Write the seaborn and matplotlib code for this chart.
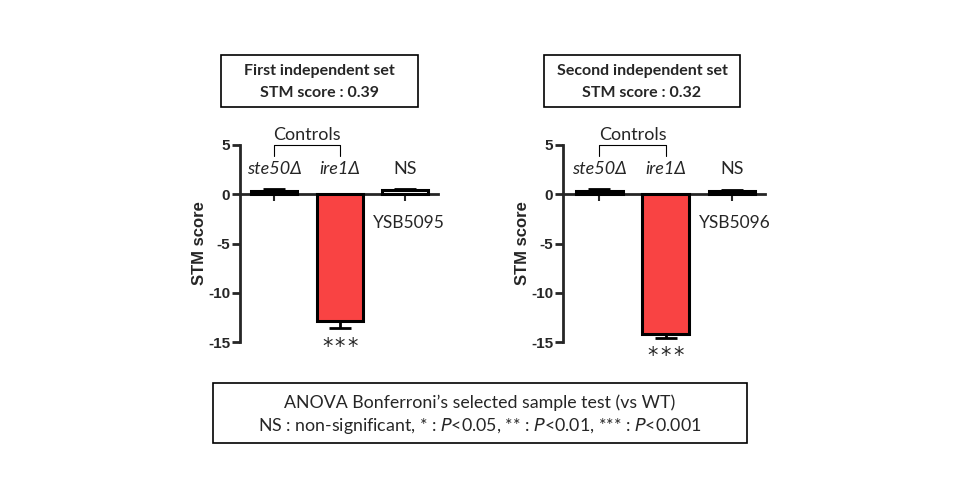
import numpy as np
import pandas as pd
import seaborn as sns
import matplotlib.pyplot as plt
from matplotlib.patches import Rectangle

# values
labels_1 = ["ste50Δ", "ire1Δ", "YSB5095"]
scores_1 = [0.35, -12.85, 0.4]
errors_1 = [0.15, 0.75, 0.1]
labels_2 = ["ste50Δ", "ire1Δ", "YSB5096"]
scores_2 = [0.3, -14.15, 0.35]
errors_2 = [0.2, 0.4, 0.1]
titles = ["First independent set\nSTM score : 0.39", "Second independent set\nSTM score : 0.32"]
bar_colors = ["white", "#F94343", "white"]

sns.set_style("ticks")
plt.rcParams['font.family'] = ['Lato', 'DejaVu Sans']

fig = plt.figure(figsize=(9.6, 5), dpi=100)


def px(x0, y0, x1, y1):
    return [x0 / 960, 1 - y1 / 500, (x1 - x0) / 960, (y1 - y0) / 500]


def panel(rect, labels, scores, errors, xlim):
    ax = fig.add_axes(rect)
    df = pd.DataFrame({"strain": labels, "score": scores})
    sns.barplot(data=df, x="strain", y="score", hue="strain", palette=bar_colors,
                legend=False, width=0.7, saturation=1, edgecolor="black",
                linewidth=2.2, ax=ax, zorder=3)
    ax.errorbar(range(3), scores, yerr=errors, fmt="none", ecolor="black",
                elinewidth=2, capsize=8, capthick=2, zorder=2)
    ax.set_ylim(-15, 5)
    ax.set_xlim(*xlim)
    ax.set_yticks([5, 0, -5, -10, -15])
    ax.set_yticklabels(["5", "0", "-5", "-10", "-15"], fontweight="bold",
                       family="Liberation Sans", fontsize=11)
    ax.set_xticks([0, 1, 2])
    ax.set_xticklabels([])
    ax.set_xlabel("")
    ax.set_ylabel("STM score", fontweight="bold", family="Liberation Sans",
                  fontsize=12, labelpad=1)
    ax.spines["right"].set_visible(False)
    ax.spines["top"].set_visible(False)
    ax.spines["bottom"].set_position(("data", 0))
    ax.spines["left"].set_linewidth(2)
    ax.spines["bottom"].set_linewidth(2)
    ax.tick_params(axis="y", width=2, length=6, pad=1)
    ax.tick_params(axis="x", width=1.5, length=5, direction="out")
    ax.set_facecolor("none")

    # labels above bars
    ax.text(0, 2.6, labels[0], style="italic", ha="center", va="center", fontsize=13, clip_on=False)
    ax.text(1, 2.6, labels[1], style="italic", ha="center", va="center", fontsize=13, clip_on=False)
    ax.text(2, 2.6, "NS", ha="center", va="center", fontsize=13, clip_on=False)
    ax.text(2.05, -2.9, labels[2], ha="center", va="center", fontsize=12.5, clip_on=False)
    for dx in (-0.19, 0, 0.19):
        ax.text(1 + dx, scores[1] - errors[1] - 0.9, "*", ha="center", va="top",
                fontsize=15, family="DejaVu Sans", clip_on=False)
    # controls bracket
    ax.plot([0, 0, 1, 1], [3.9, 5.0, 5.0, 3.9], color="black", lw=0.8, clip_on=False)
    ax.text(0.5, 6.0, "Controls", ha="center", va="center", fontsize=13, clip_on=False)
    return ax


panel(px(240, 145, 438, 342), labels_1, scores_1, errors_1, (-0.52, 2.5))
panel(px(563, 145, 765, 342), labels_2, scores_2, errors_2, (-0.55, 2.5))

# title boxes
for (x0, x1), title in zip([(221, 418), (544, 740)], titles):
    fig.add_artist(Rectangle((x0 / 960, 1 - 107 / 500), (x1 - x0) / 960, 52 / 500,
                             transform=fig.transFigure, fill=False, lw=1.2, ec="black"))
    fig.text((x0 + x1) / 2 / 960, 1 - 82 / 500, title, ha="center", va="center",
             fontsize=11.5, fontweight="bold", linespacing=1.75)

# footnote box
fig.add_artist(Rectangle((213 / 960, 1 - 443 / 500), 534 / 960, 60 / 500,
                         transform=fig.transFigure, fill=False, lw=1.2, ec="black"))
fig.text(480 / 960, 1 - 403 / 500, "ANOVA Bonferroni’s selected sample test (vs WT)",
         ha="center", va="center", fontsize=12.8)
fig.text(480 / 960, 1 - 426 / 500,
         r"NS : non-significant, * : $\it{P}$<0.05, ** : $\it{P}$<0.01, *** : $\it{P}$<0.001",
         ha="center", va="center", fontsize=12.8)

fig.savefig("out.png", dpi=100)
